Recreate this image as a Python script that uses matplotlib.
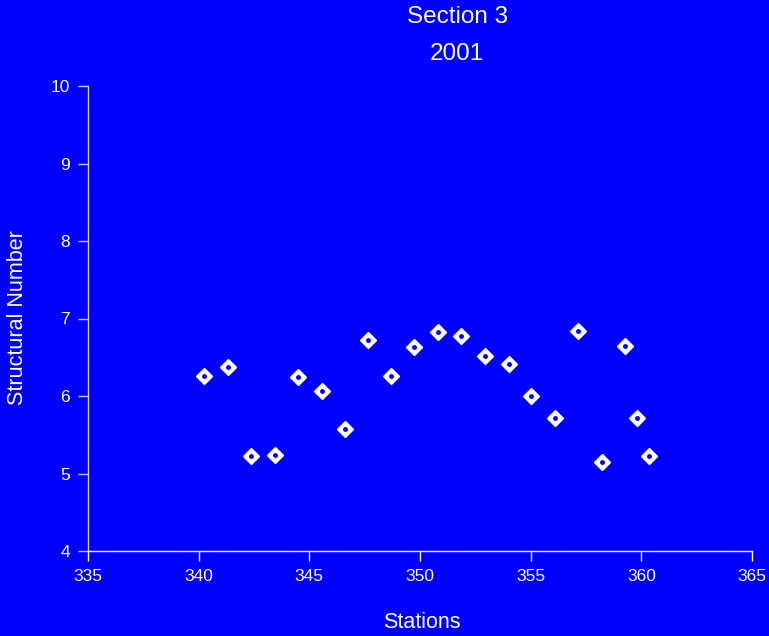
import matplotlib
matplotlib.use("Agg")
import matplotlib.pyplot as plt

plt.rcParams['font.family'] = ['Liberation Sans', 'DejaVu Sans']

stations = [340.24, 341.33, 342.38, 343.43, 344.49, 345.56, 346.60, 347.65, 348.69, 349.73,
            350.80, 351.86, 352.94, 354.02, 355.02, 356.10, 357.14, 358.23, 359.27, 359.81, 360.35]
sn = [6.26, 6.37, 5.22, 5.24, 6.25, 6.06, 5.58, 6.72, 6.26, 6.63,
      6.83, 6.77, 6.52, 6.41, 6.00, 5.72, 6.84, 5.15, 6.65, 5.72, 5.23]

xticks = [335, 340, 345, 350, 355, 360, 365]
yticks = [4, 5, 6, 7, 8, 9, 10]

blue = "#0000FF"
fig = plt.figure(figsize=(7.69, 6.36), dpi=100, facecolor=blue)
ax = fig.add_axes([88/769, 1-551/636, (752-88)/769, (551-86)/636], facecolor=blue)

ax.plot(stations, sn, linestyle="none", marker="D", markersize=8.5,
        markerfacecolor="white", markeredgecolor="white", clip_on=False)
ax.plot(stations, sn, linestyle="none", marker="o", markersize=2.5,
        markerfacecolor=blue, markeredgecolor=blue, clip_on=False)

ax.set_xlim(335, 365)
ax.set_ylim(4, 10)
ax.set_xticks(xticks)
ax.set_yticks(yticks)
ax.tick_params(colors="white", labelsize=12.5, direction="out", length=7, width=1, pad=6)
ax.tick_params(axis="y", colors="#ccccff", labelcolor="white")
for s in ["top", "right"]:
    ax.spines[s].set_visible(False)
ax.spines["left"].set_color("#ccccff")
ax.spines["bottom"].set_color("white")
for s in ["left", "bottom"]:
    ax.spines[s].set_linewidth(1)

fig.text(422/769, 1-622/636, "Stations", color="white", fontsize=15.5, ha="center", va="center")
fig.text(18/769, 1-318/636, "Structural Number", color="white", fontsize=15.5,
         ha="center", va="center", rotation=90)

fig.text(458/769, 1-17/636, "Section 3", color="white", fontsize=17.5, ha="center", va="center")
fig.text(457/769, 1-54/636, "2001", color="white", fontsize=17.5, ha="center", va="center")

fig.savefig("out.png", dpi=100, facecolor=blue)
